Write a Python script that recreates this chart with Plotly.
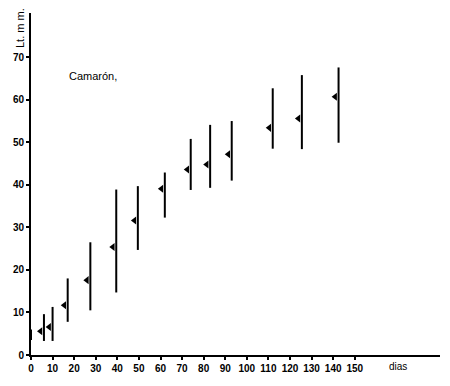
import plotly.graph_objects as go

# Data (days, mean length and range in mm)
dias = [0, 6, 10, 17, 27.5, 39.5, 49.5, 62, 74, 83, 93, 112, 125.5, 142.5]
media = [4.5, 5.6, 6.6, 11.7, 17.6, 25.4, 31.6, 39.1, 43.6, 44.8, 47.2, 53.4, 55.6, 60.7]
maximo = [6.0, 9.6, 11.3, 18.0, 26.5, 38.9, 39.7, 42.9, 50.8, 54.1, 55.0, 62.7, 65.8, 67.6]
minimo = [3.5, 3.3, 3.3, 7.8, 10.5, 14.7, 24.7, 32.3, 38.8, 39.3, 41.0, 48.5, 48.4, 49.9]
x_ticks = list(range(0, 151, 10))
y_ticks = list(range(0, 71, 10))

tri_offset = 1.6  # triangle drawn just left of its range line

fig = go.Figure()
fig.add_trace(go.Scatter(
    x=dias, y=media, mode="markers",
    marker=dict(size=1, color="rgba(0,0,0,0)"),
    error_y=dict(type="data", symmetric=False,
                 array=[a - m for a, m in zip(maximo, media)],
                 arrayminus=[m - b for m, b in zip(media, minimo)],
                 width=0, thickness=2, color="black"),
    cliponaxis=False, showlegend=False, hoverinfo="skip"))
fig.add_trace(go.Scatter(
    x=[d - tri_offset for d in dias], y=media, mode="markers",
    marker=dict(symbol="triangle-left", size=7, color="black"),
    cliponaxis=False, showlegend=False))

PH = 342
PB = 386 - 31

fig.update_layout(
    width=450, height=386,
    margin=dict(l=31, r=10, t=13, b=31),
    plot_bgcolor="white", paper_bgcolor="white",
    font=dict(family="Liberation Sans, Arial, sans-serif", color="black"),
    xaxis=dict(range=[0, 189.5], tickvals=x_ticks, showgrid=False, zeroline=False,
               showline=True, linecolor="black", linewidth=2,
               ticks="outside", ticklen=3, tickwidth=1.5, tickcolor="black",
               tickfont=dict(size=10, weight="bold"), fixedrange=True),
    yaxis=dict(range=[0, 80.4], tickvals=y_ticks, showgrid=False, zeroline=False,
               showline=True, linecolor="black", linewidth=2,
               ticks="outside", ticklen=3, tickwidth=1.5, tickcolor="black",
               tickfont=dict(size=10, weight="bold"), fixedrange=True),
    annotations=[
        dict(text="Camarón,", xref="paper", yref="paper", x=(67 - 31) / 409, y=(PB - 76) / PH,
             xanchor="left", yanchor="middle", showarrow=False, font=dict(size=11)),
        dict(text="Lt. m m.", xref="paper", yref="paper", x=(20 - 31) / 409, y=(PB - 28) / PH,
             xanchor="center", yanchor="middle", textangle=-90, showarrow=False,
             font=dict(size=11)),
        dict(text="dias", xref="paper", yref="paper", x=(398 - 31) / 409, y=(PB - 366) / PH,
             xanchor="center", yanchor="middle", showarrow=False, font=dict(size=10)),
    ],
)

fig.write_html("out.html")
